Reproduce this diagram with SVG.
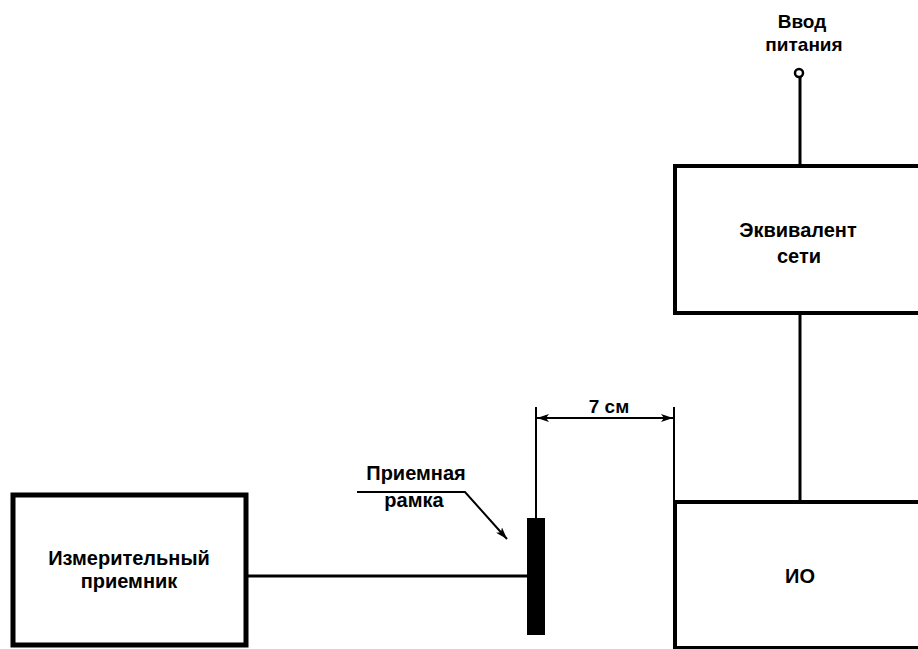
<svg xmlns="http://www.w3.org/2000/svg" width="918" height="649" viewBox="0 0 918 649">
  <style>
    .box { fill: #fff; stroke: #000; stroke-width: 4; }
    .wire { fill: none; stroke: #000; stroke-width: 3; }
    .thin { fill: none; stroke: #000; stroke-width: 2; }
    .lbl { font-family: "Liberation Sans", Arial, sans-serif; font-weight: bold; font-size: 20px; fill: #000; text-anchor: middle; }
  </style>
  <defs>
    <marker id="arrow" viewBox="0 0 12 8" refX="12" refY="4" markerWidth="12" markerHeight="8" markerUnits="userSpaceOnUse" orient="auto-start-reverse">
      <path d="M0,0 L12,4 L0,8 L3,4 Z" fill="#000"/>
    </marker>
  </defs>

  <!-- connectors -->
  <g id="connectors">
    <line class="wire" x1="800" y1="77" x2="800" y2="166"/>
    <line class="wire" x1="800" y1="313" x2="800" y2="502"/>
    <line class="wire" x1="247" y1="576" x2="527" y2="576"/>
    <!-- dimension 7 cm -->
    <line class="thin" x1="536" y1="407" x2="536" y2="518"/>
    <line class="thin" x1="674" y1="407" x2="674" y2="502"/>
    <line class="thin" x1="537" y1="418" x2="673" y2="418" marker-start="url(#arrow)" marker-end="url(#arrow)"/>
    <text class="lbl" x="609" y="413" style="font-size:19px">7 см</text>
    <!-- leader to receiving frame -->
    <polyline class="thin" points="357,492 465,492 507,539" marker-end="url(#arrow)"/>
  </g>

  <!-- power input terminal -->
  <g id="power-input">
    <circle cx="799" cy="73" r="4" fill="#fff" stroke="#000" stroke-width="2.5"/>
    <text class="lbl" x="802" y="28" style="font-size:19px">Ввод</text>
    <text class="lbl" x="804" y="51" style="font-size:19px">питания</text>
  </g>

  <!-- line impedance network -->
  <g id="lisn">
    <rect class="box" x="675" y="166" width="300" height="147"/>
    <text class="lbl" x="798" y="237">Эквивалент</text>
    <text class="lbl" x="799" y="263">сети</text>
  </g>

  <!-- equipment under test -->
  <g id="eut">
    <rect class="box" x="675" y="502" width="300" height="146"/>
    <text class="lbl" x="800" y="583">ИО</text>
  </g>

  <!-- measuring receiver -->
  <g id="receiver">
    <rect class="box" x="13" y="495" width="233" height="150" style="stroke-width:5"/>
    <text class="lbl" x="129" y="565">Измерительный</text>
    <text class="lbl" x="129" y="588">приемник</text>
  </g>

  <!-- receiving frame -->
  <g id="frame">
    <rect x="527" y="518" width="18" height="117" fill="#000"/>
    <text class="lbl" x="416" y="480">Приемная</text>
    <text class="lbl" x="414" y="507">рамка</text>
  </g>
</svg>
